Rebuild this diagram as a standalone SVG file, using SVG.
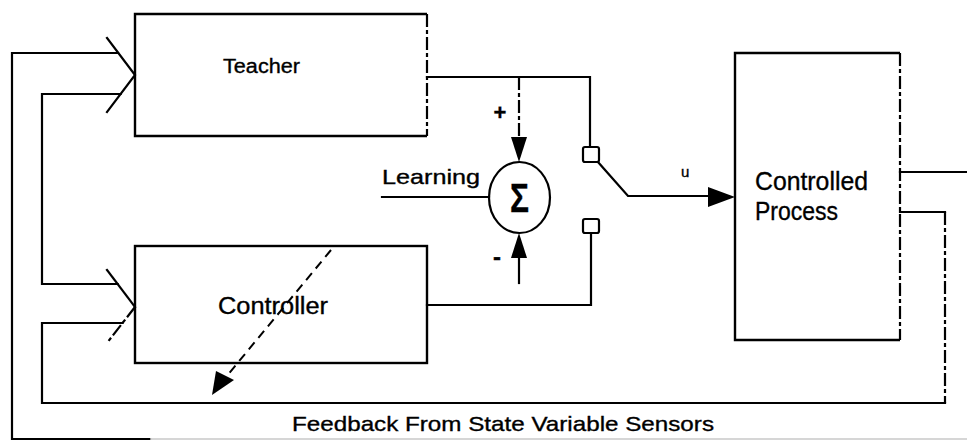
<svg xmlns="http://www.w3.org/2000/svg" width="967" height="442" viewBox="0 0 967 442">
<style>
.ln{fill:none;stroke:#000;stroke-width:2.2;stroke-linecap:square;stroke-linejoin:miter}
.ds{fill:none;stroke:#000;stroke-width:2.2;stroke-dasharray:13 3 4 3}
.dg{fill:none;stroke:#000;stroke-width:2;stroke-dasharray:9 6}
.box{fill:none;stroke:#000;stroke-width:2.4}
.t{font-family:"Liberation Sans",Arial,sans-serif;fill:#000;stroke:#000;stroke-width:0.35}
.ah{fill:#000;stroke:none}
</style>
<rect width="967" height="442" fill="#fff"/>
<g id="connectors">
  <path class="ln" d="M118,53 H12 V439 H150"/>
  <path d="M150,439 H967" fill="none" stroke="#c8c8c8" stroke-width="1.6"/>
  <path class="ln" d="M120.6,94 H42 V284 H117.6"/>
  <path class="ln" d="M900,212 H945"/>
  <path class="ds" d="M945,212 V403"/>
  <path class="ln" d="M945,403 H42 V323 H122.6"/>
  <path class="ln" d="M900,172 H967"/>
  <path class="ln" d="M107,38 L135,75 L107,112"/>
  <path class="ln" d="M107,270 L135,307"/>
  <path class="ds" d="M135,307 L107,343"/>
  <path class="ln" d="M427,77 H590 V147"/>
  <path class="ds" d="M519,77 V140"/>
  <polygon class="ah" points="511,137 527,137 519,162"/>
  <path class="ln" d="M382,197 H489"/>
  <path class="ln" d="M519,258 V283"/>
  <polygon class="ah" points="511,258 527,258 519,233"/>
  <path class="ln" d="M427,305 H591 V233"/>
  <path class="ln" d="M598,162 L628,196 H712"/>
  <polygon class="ah" points="708,187 735,197 708,207"/>
  <path class="dg" d="M331,250 L226,377"/>
  <polygon class="ah" points="212,395 216,371 234,380"/>
</g>
<g id="teacher">
  <path class="box" d="M427,14 H135 V136 H427"/>
  <path class="ds" d="M427,14 V136"/>
  <text class="t" x="223" y="73" font-size="20" textLength="77" lengthAdjust="spacingAndGlyphs">Teacher</text>
</g>
<g id="controller">
  <rect class="box" x="135" y="246" width="292" height="117"/>
  <text class="t" x="218" y="314" font-size="23" textLength="110" lengthAdjust="spacingAndGlyphs">Controller</text>
</g>
<g id="sum">
  <ellipse cx="519.5" cy="197.5" rx="30.5" ry="35.5" fill="none" stroke="#000" stroke-width="2.2"/>
  <text class="t" x="519.5" y="212" font-size="40" font-weight="bold" text-anchor="middle" textLength="19" lengthAdjust="spacingAndGlyphs">Σ</text>
  <text class="t" x="500" y="120" font-size="22" font-weight="bold" text-anchor="middle">+</text>
  <text class="t" x="497" y="265" font-size="24" font-weight="bold" text-anchor="middle">-</text>
</g>
<g id="learning">
  <text class="t" x="382" y="184" font-size="21" textLength="98" lengthAdjust="spacingAndGlyphs">Learning</text>
</g>
<g id="switch">
  <rect x="583" y="147" width="16" height="15" rx="2" fill="#fff" stroke="#000" stroke-width="2.2"/>
  <rect x="583" y="219" width="16" height="14" rx="2" fill="#fff" stroke="#000" stroke-width="2.2"/>
  <text class="t" x="681" y="177" font-size="15">u</text>
</g>
<g id="process">
  <path class="box" d="M900,53 H735 V340 H900"/>
  <path class="ds" d="M900,53 V340"/>
  <text class="t" x="755" y="190" font-size="26" textLength="113" lengthAdjust="spacingAndGlyphs">Controlled</text>
  <text class="t" x="755" y="220" font-size="26" textLength="83" lengthAdjust="spacingAndGlyphs">Process</text>
</g>
<g id="feedback-label">
  <text class="t" x="292" y="431" font-size="21" textLength="422" lengthAdjust="spacingAndGlyphs">Feedback From State Variable Sensors</text>
</g>
</svg>
